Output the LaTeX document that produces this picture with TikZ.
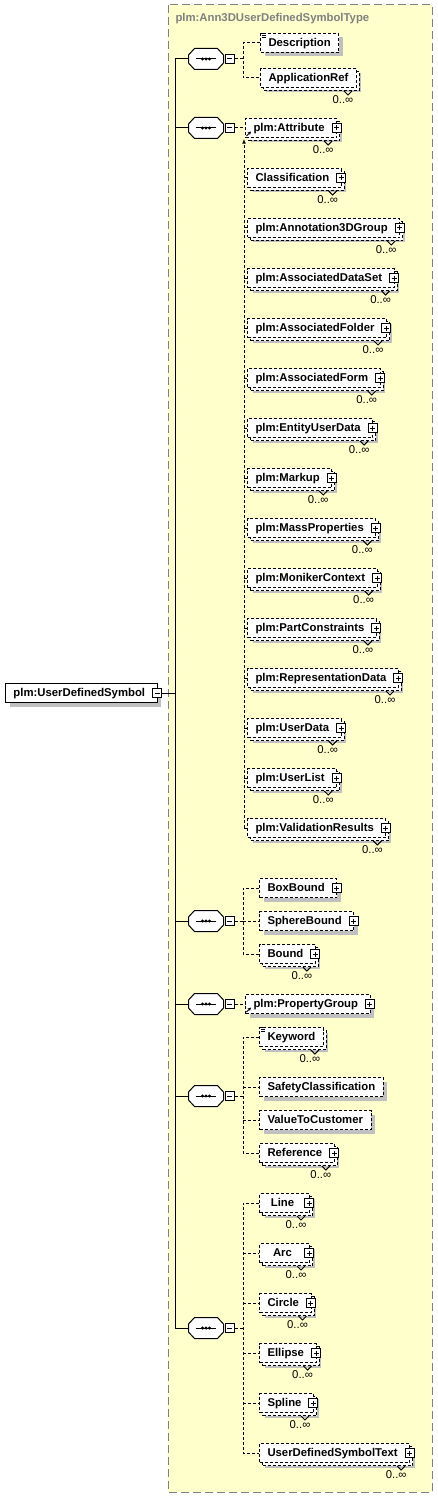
\documentclass[tikz,border=0pt]{standalone}
\usepackage{fontspec}
\setmainfont{Liberation Sans}
\usetikzlibrary{positioning,calc,shadows,arrows.meta}

\definecolor{fondtype}{HTML}{FFFFCC}
\definecolor{bordtype}{HTML}{808080}
\definecolor{ombre}{HTML}{C0C0C0}
\newcommand{\eltfont}{\fontsize{8.5}{10}\selectfont\bfseries}
\newcommand{\occfont}{\fontsize{8.5}{10}\selectfont}

\begin{document}
\begin{tikzpicture}[
    x=0.75pt, y=-0.75pt,
    line width=0.75pt,
    elt/.style={draw, dash pattern=on 2.25pt off 1.5pt, fill=white, font=\eltfont,
        anchor=west, minimum height=14.25pt, minimum width=37.5pt,
        inner xsep=6pt, inner ysep=0pt, text height=6.4pt, text depth=1.8pt},
    one/.style={elt, drop shadow={shadow xshift=3pt, shadow yshift=-3pt, opacity=1, fill=ombre}},
    many/.style={elt, drop shadow={shadow xshift=3.75pt, shadow yshift=-3.75pt, opacity=1, fill=ombre},
        copy shadow={shadow xshift=2.25pt, shadow yshift=-2.25pt, draw, fill=white,
        dash pattern=on 2.25pt off 1.5pt}},
    withbtn/.style={execute at end node={\hspace{3pt}}},
    root/.style={draw, fill=white, font=\eltfont, anchor=west, minimum height=14.25pt,
        inner xsep=6pt, inner ysep=0pt, text height=6.4pt, text depth=1.8pt, withbtn,
        drop shadow={shadow xshift=3pt, shadow yshift=-3pt, opacity=1, fill=ombre}},
    seq/.style={minimum width=25.5pt, minimum height=15pt, inner sep=0pt},
    pm/.style={draw, solid, fill=white, minimum size=6.75pt, inner sep=0pt,
        path picture={\draw ([xshift=1.5pt]path picture bounding box.west)
            -- ([xshift=-1.5pt]path picture bounding box.east);}},
    pp/.style={pm, path picture={
        \draw ([xshift=1.5pt]path picture bounding box.west) -- ([xshift=-1.5pt]path picture bounding box.east);
        \draw ([yshift=-1.5pt]path picture bounding box.north) -- ([yshift=1.5pt]path picture bounding box.south);}},
    conn/.style={dash pattern=on 2.25pt off 1.5pt},
    occ/.style={font=\occfont, inner sep=0pt},
    encart/.style={draw=bordtype, fill=fondtype, dash pattern=on 6pt off 3pt},
    titre/.style={font=\eltfont, text=bordtype, anchor=west, inner sep=0pt}
]
    \useasboundingbox (0,0) rectangle (437,1498);

    % Encart du type
    \draw[encart] (168,5) rectangle (432,1492);
    \node[titre] (typ) at (175,19) {plm:Ann3DUserDefinedSymbolType};

    % Element racine
    \node[root] (uds) at (5,693) {plm:UserDefinedSymbol};
    \node[pm] (udsm) at ([xshift=-0.4pt]uds.east) {};

    % Sequences (octogones)
    \node[seq] (s1) at (206,59) {};
    \node[seq] (s2) at (206,128) {};
    \node[seq] (s3) at (206,921) {};
    \node[seq] (s4) at (206,1004) {};
    \node[seq] (s5) at (206,1096) {};
    \node[seq] (s6) at (206,1328) {};
    \foreach \s in {s1,s2,s3,s4,s5,s6}{
        \fill[ombre, shift={(4,4)}] ($(\s.west)+(0,-4)$) -- ($(\s.north west)+(6,0)$)
            -- ($(\s.north east)+(-6,0)$) -- ($(\s.east)+(0,-4)$) -- ($(\s.east)+(0,4)$)
            -- ($(\s.south east)+(-6,0)$) -- ($(\s.south west)+(6,0)$) -- ($(\s.west)+(0,4)$) -- cycle;
        \draw[fill=white] ($(\s.west)+(0,-4)$) -- ($(\s.north west)+(6,0)$)
            -- ($(\s.north east)+(-6,0)$) -- ($(\s.east)+(0,-4)$) -- ($(\s.east)+(0,4)$)
            -- ($(\s.south east)+(-6,0)$) -- ($(\s.south west)+(6,0)$) -- ($(\s.west)+(0,4)$) -- cycle;
        \node[pm, right=0.75pt of \s] (\s m) {};
        \draw ([xshift=-7.5pt]\s.center) -- ([xshift=7.5pt]\s.center);
        \foreach \d in {-3.5,0,3.5} \fill ([shift={(\d,0)}]\s.center) circle (1.3pt);
    }

    % Groupe 1
    \node[one] (desc) at (260,43) {Description};
    \node[many] (appref) at (260,78) {ApplicationRef};

    % Groupe 2
    \node[many, withbtn] (attr) at (245,128) {plm:Attribute};
    \node[many, withbtn] (classif) at (247,178) {Classification};
    \node[many, withbtn] (annot) at (247,228) {plm:Annotation3DGroup};
    \node[many, withbtn] (dataset) at (247,278) {plm:AssociatedDataSet};
    \node[many, withbtn] (folder) at (247,328) {plm:AssociatedFolder};
    \node[many, withbtn] (form) at (247,378) {plm:AssociatedForm};
    \node[many, withbtn] (entity) at (247,428) {plm:EntityUserData};
    \node[many, withbtn] (markup) at (247,478) {plm:Markup};
    \node[many, withbtn] (mass) at (247,528) {plm:MassProperties};
    \node[many, withbtn] (moniker) at (247,578) {plm:MonikerContext};
    \node[many, withbtn] (constr) at (247,628) {plm:PartConstraints};
    \node[many, withbtn] (repr) at (247,678) {plm:RepresentationData};
    \node[many, withbtn] (udata) at (247,728) {plm:UserData};
    \node[many, withbtn] (ulist) at (247,778) {plm:UserList};
    \node[many, withbtn] (valid) at (247,828) {plm:ValidationResults};

    % Groupe 3
    \node[one, withbtn] (boxb) at (259,888) {BoxBound};
    \node[one, withbtn] (sphb) at (259,921) {SphereBound};
    \node[many, withbtn] (bound) at (259,954) {Bound};

    % Groupe 4
    \node[one, withbtn] (propg) at (245,1004) {plm:PropertyGroup};

    % Groupe 5
    \node[many] (keyw) at (259,1037) {Keyword};
    \node[one] (safety) at (259,1087) {SafetyClassification};
    \node[one] (value) at (259,1120) {ValueToCustomer};
    \node[many, withbtn] (refer) at (259,1153) {Reference};

    % Groupe 6
    \node[many, withbtn] (eLine) at (259,1203) {Line};
    \node[many, withbtn] (eArc) at (259,1253) {Arc};
    \node[many, withbtn] (eCircle) at (259,1303) {Circle};
    \node[many, withbtn] (eEllipse) at (259,1353) {Ellipse};
    \node[many, withbtn] (eSpline) at (259,1403) {Spline};
    \node[many, withbtn] (eText) at (259,1453) {UserDefinedSymbolText};

    % Boutons d'expansion
    \foreach \n in {attr,classif,annot,dataset,folder,form,entity,markup,mass,moniker,
        constr,repr,udata,ulist,valid,boxb,sphb,bound,propg,refer,
        eLine,eArc,eCircle,eEllipse,eSpline,eText}
        \node[pp] (\n x) at ([xshift=-0.4pt]\n.east) {};

    % Occurrences 0..oo
    \foreach \n in {appref,attr,classif,annot,dataset,folder,form,entity,markup,mass,moniker,
        constr,repr,udata,ulist,valid,bound,keyw,refer,
        eLine,eArc,eCircle,eEllipse,eSpline,eText}{
        \draw ($(\n.south east)+(-13,3)$) -- ++(4,4) -- ++(4,-4);
        \node[occ] (\n o) at ($(\n.east)+(-14,22)$) {0..∞};
    }

    % Icones doc et ref
    \foreach \n in {desc,keyw}
        \foreach \k in {0.8,2.4,4} \draw[line width=0.5pt] ($(\n.north west)+(2,\k)$) -- ++(4,0);
    \foreach \n in {attr,propg}
        \draw[-{Stealth[length=2.5pt,width=2.5pt]}] ($(\n.south west)+(1.5,-2)$) -- ++(4.5,-4.5);

    % Tronc
    \coordinate (t1) at (175,59);
    \coordinate (t6) at (175,1328);
    \draw (udsm.east) -- (udsm.east -| t1);
    \draw (t1) -- (t6);
    \foreach \s in {s1,s2,s3,s4,s5,s6} \draw (\s.west -| t1) -- (\s.west);

    % Liaisons pointillees
    \coordinate (v) at (243,0);
    \coordinate (v2) at (244,139);
    \draw[conn] (s1m.east) -- (s1m.east -| v);
    \draw[conn] (desc.west) -- (v |- desc.west) -- (v |- appref.west) -- (appref.west);

    \draw[conn] (s2m.east) -- (attr.west);
    \draw[conn, -{Latex[length=3.5pt,width=3pt]}] (v2 |- valid.west) -- (v2);
    \foreach \n in {classif,annot,dataset,folder,form,entity,markup,mass,moniker,
        constr,repr,udata,ulist,valid}
        \draw[conn] (v2 |- \n.west) -- (\n.west);

    \draw[conn] (s3m.east) -- (s3m.east -| v);
    \draw[conn] (boxb.west) -- (v |- boxb.west) -- (v |- bound.west) -- (bound.west);
    \draw[conn] (v |- sphb.west) -- (sphb.west);

    \draw[conn] (s4m.east) -- (propg.west);

    \draw[conn] (s5m.east) -- (s5m.east -| v);
    \draw[conn] (keyw.west) -- (v |- keyw.west) -- (v |- refer.west) -- (refer.west);
    \draw[conn] (v |- safety.west) -- (safety.west);
    \draw[conn] (v |- value.west) -- (value.west);

    \draw[conn] (s6m.east) -- (s6m.east -| v);
    \draw[conn] (eLine.west) -- (v |- eLine.west) -- (v |- eText.west) -- (eText.west);
    \draw[conn] (v |- eArc.west) -- (eArc.west);
    \draw[conn] (v |- eCircle.west) -- (eCircle.west);
    \draw[conn] (v |- eEllipse.west) -- (eEllipse.west);
    \draw[conn] (v |- eSpline.west) -- (eSpline.west);

\end{tikzpicture}
\end{document}
